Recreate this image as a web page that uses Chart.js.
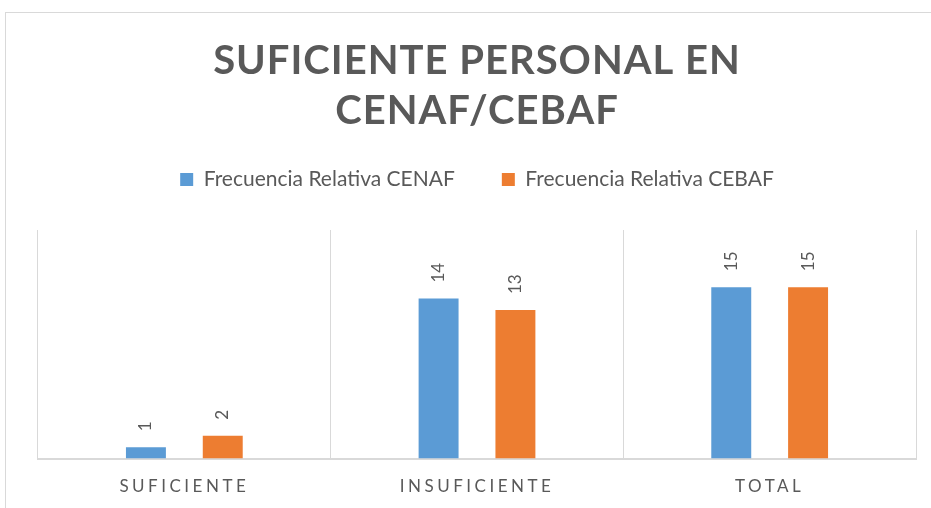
<!DOCTYPE html>
<html>
<head>
<meta charset="utf-8">
<script src="https://cdn.jsdelivr.net/npm/chart.js@4"></script>
<style>
  html, body { margin: 0; padding: 0; background: #fff; overflow: hidden; }
  #frame { position: absolute; left: 5px; top: 12px; width: 1000px; height: 600px;
           border-left: 1px solid #d9d9d9; border-top: 1px solid #d9d9d9; }
  #wrap { position: absolute; left: 0; top: 0; width: 931px; height: 508px; }
</style>
</head>
<body>
<div id="frame"></div>
<div id="wrap"><canvas id="grafico" width="931" height="508"></canvas></div>
<script>
// Datos del gráfico
const categorias = ['SUFICIENTE', 'INSUFICIENTE', 'TOTAL'];
const cenaf = [1, 14, 15];
const cebaf = [2, 13, 15];
const series = ['Frecuencia Relativa CENAF', 'Frecuencia Relativa CEBAF'];
const titulo = ['SUFICIENTE PERSONAL EN', 'CENAF/CEBAF'];

const gris = '#595959';
const fuente = 'Lato, "Open Sans", sans-serif';

// Espaciado de letras para título y etiquetas del eje X
const espaciado = {
    id: 'espaciado',
    afterLayout(chart) {
        const tb = chart.titleBlock;
        if (tb && !tb._parcheado) {
            const orig = tb.draw;
            tb.draw = function() {
                const ctx = this.ctx;
                const prev = ctx.letterSpacing;
                ctx.letterSpacing = '1px';
                orig.apply(this, arguments);
                ctx.letterSpacing = prev;
            };
            tb._parcheado = true;
        }
        const sx = chart.scales.x;
        if (sx && !sx._parcheado) {
            const orig = sx.drawLabels;
            sx.drawLabels = function() {
                const ctx = this.ctx;
                const prev = ctx.letterSpacing;
                ctx.letterSpacing = '3.5px';
                orig.apply(this, arguments);
                ctx.letterSpacing = prev;
            };
            sx._parcheado = true;
        }
    }
};

// Leyenda: altura fija para dejar espacio hasta el área del gráfico
const alturaLeyenda = {
    id: 'alturaLeyenda',
    beforeInit(chart) {
        const fitOrig = chart.legend.fit;
        chart.legend.fit = function() {
            fitOrig.bind(chart.legend)();
            this.height = 108;
        };
    }
};

// Etiquetas de datos rotadas sobre cada barra
const etiquetas = {
    id: 'etiquetas',
    afterDatasetsDraw(chart) {
        const ctx = chart.ctx;
        chart.data.datasets.forEach((ds, i) => {
            const meta = chart.getDatasetMeta(i);
            meta.data.forEach((bar, j) => {
                ctx.save();
                ctx.translate(bar.x, bar.y - 16);
                ctx.rotate(-Math.PI / 2);
                ctx.textAlign = 'left';
                ctx.textBaseline = 'middle';
                ctx.fillStyle = gris;
                ctx.font = '17px ' + fuente;
                ctx.fillText(ds.data[j], 0, 0);
                ctx.restore();
            });
        });
    }
};

const ctx = document.getElementById('grafico').getContext('2d');
new Chart(ctx, {
    type: 'bar',
    data: {
        labels: categorias,
        datasets: [
            { label: series[0], data: cenaf, backgroundColor: '#5b9bd5',
              barPercentage: 0.52, categoryPercentage: 0.525 },
            { label: series[1], data: cebaf, backgroundColor: '#ed7d31',
              barPercentage: 0.52, categoryPercentage: 0.525 }
        ]
    },
    options: {
        responsive: false,
        animation: false,
        devicePixelRatio: 1,
        layout: { padding: { left: 38, right: 15, top: 0, bottom: -7 } },
        plugins: {
            title: {
                display: true,
                text: titulo,
                color: gris,
                font: { family: fuente, size: 40, weight: 'bold', lineHeight: 1.25 },
                padding: { top: 36, bottom: -14 }
            },
            legend: {
                position: 'top',
                labels: {
                    color: gris,
                    font: { family: fuente, size: 21 },
                    boxWidth: 13,
                    boxHeight: 13,
                    padding: 47
                }
            },
            tooltip: { enabled: false }
        },
        scales: {
            x: {
                offset: true,
                grid: { display: true, offset: true, color: '#d9d9d9', drawTicks: false },
                border: { display: true, color: '#d9d9d9', width: 2 },
                ticks: { color: gris, font: { family: fuente, size: 17 }, padding: 18 }
            },
            y: {
                display: false,
                min: 0,
                max: 20
            }
        }
    },
    plugins: [espaciado, alturaLeyenda, etiquetas]
});
</script>
</body>
</html>
